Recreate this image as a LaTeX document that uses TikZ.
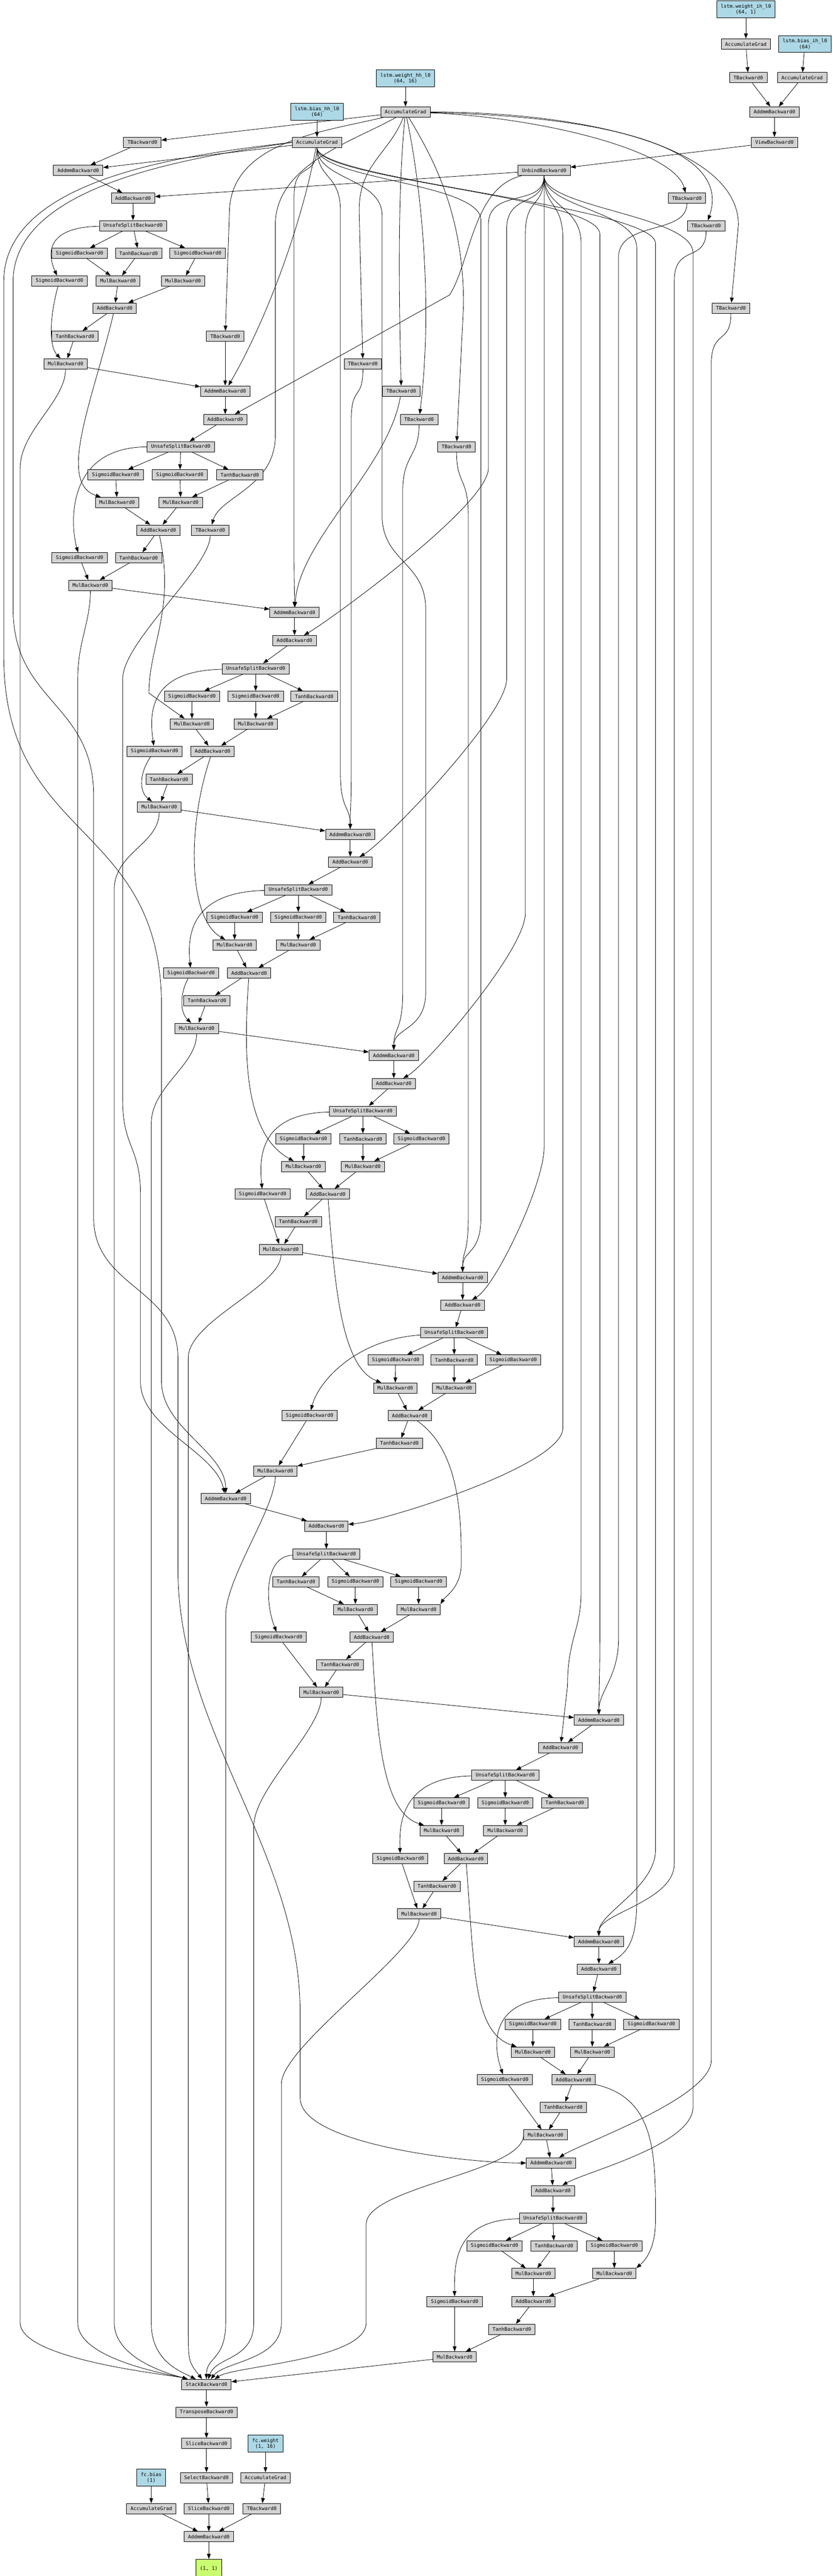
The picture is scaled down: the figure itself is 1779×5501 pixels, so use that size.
\documentclass[tikz,border=0pt]{standalone}
\usepackage{fontspec}
\setmonofont{DejaVu Sans Mono}
\usepackage{tikz}
\usetikzlibrary{arrows.meta,backgrounds}
\definecolor{fngray}{HTML}{D3D3D3}
\definecolor{parblue}{HTML}{ADD8E6}
\definecolor{outgreen}{HTML}{CAFF70}
\def\edgeto(#1)(#2){\draw[conn] (#1) -- (#2);}
\def\lanepath[#1](#2)(#3:#4:#5)(#6){\draw[conn] (#2) .. controls +(0,80) and (#3,#4-80) .. (#3,#4) -- (#3,#5) .. controls (#3,#5+80) and +(#1) .. (#6);}

\begin{document}
\begin{tikzpicture}[x=1pt, y=-1pt,
  fnbox/.style={draw, line width=0.9pt, fill=fngray, font=\ttfamily\fontsize{10.5}{12.5}\selectfont, minimum height=22pt, inner xsep=8.5pt, inner ysep=2pt},
  parambox/.style={fnbox, fill=parblue, align=center, minimum height=36pt},
  outbox/.style={parambox, fill=outgreen},
  conn/.style={line width=0.9pt, -{Triangle[length=11pt,width=8pt]}}]
			%%%%% START %%%%%
			\useasboundingbox (0,0) rectangle (1779,5501);
			
			\node[parambox] (wih) at (1593,20) {lstm.weight\_ih\_l0\\(64, 1)};
			\node[fnbox] (agih) at (1593,94) {AccumulateGrad};
			\node[parambox] (bih) at (1719,94) {lstm.bias\_ih\_l0\\(64)};
			\node[fnbox] (tih) at (1598,166) {TBackward0};
			\node[fnbox] (agbih) at (1713,166) {AccumulateGrad};
			\node[fnbox] (addih) at (1654,239) {AddmmBackward0};
			\node[fnbox] (view) at (1654,304) {ViewBackward0};
			\node[fnbox] (unbind) at (1162,364) {UnbindBackward0};
			\node[parambox] (whh) at (866,167) {lstm.weight\_hh\_l0\\(64, 16)};
			\node[fnbox] (agwhh) at (866,239) {AccumulateGrad};
			\node[parambox] (bhh) at (677,239) {lstm.bias\_hh\_l0\\(64)};
			\node[fnbox] (agbhh) at (677,304) {AccumulateGrad};
			
			\node[fnbox] (t1) at (304,304) {TBackward0};
			\node[fnbox] (t2) at (481,718) {TBackward0};
			\node[fnbox] (t3) at (775,777) {TBackward0};
			\node[fnbox] (t4) at (857,835) {TBackward0};
			\node[fnbox] (t5) at (895,896) {TBackward0};
			\node[fnbox] (t6) at (975,954) {TBackward0};
			\node[fnbox] (t7) at (449,1132) {TBackward0};
			\node[fnbox] (t8) at (1467,423) {TBackward0};
			\node[fnbox] (t9) at (1508,482) {TBackward0};
			\node[fnbox] (t10) at (1561,658) {TBackward0};
			
			% step 1
			\node[fnbox] (am1) at (167,364) {AddmmBackward0};
			\node[fnbox] (ad1) at (284,423) {AddBackward0};
			\node[fnbox] (sp1) at (284,482) {UnsafeSplitBackward0};
			\node[fnbox] (si1) at (170,541) {SigmoidBackward0};
			\node[fnbox] (tg1) at (296,541) {TanhBackward0};
			\node[fnbox] (sf1) at (422,541) {SigmoidBackward0};
			\node[fnbox] (so1) at (127,600) {SigmoidBackward0};
			\node[fnbox] (mi1) at (252,600) {MulBackward0};
			\node[fnbox] (mf1) at (391,600) {MulBackward0};
			\node[fnbox] (ac1) at (245,658) {AddBackward0};
			\node[fnbox] (tc1) at (160,718) {TanhBackward0};
			\node[fnbox] (mh1) at (140,777) {MulBackward0};
			
			% step 2
			\node[fnbox] (am2) at (481,835) {AddmmBackward0};
			\node[fnbox] (ad2) at (481,896) {AddBackward0};
			\node[fnbox] (sp2) at (386,954) {UnsafeSplitBackward0};
			\node[fnbox] (sf2) at (247,1014) {SigmoidBackward0};
			\node[fnbox] (si2) at (384,1014) {SigmoidBackward0};
			\node[fnbox] (tg2) at (512,1014) {TanhBackward0};
			\node[fnbox] (mf2) at (250,1073) {MulBackward0};
			\node[fnbox] (mi2) at (386,1073) {MulBackward0};
			\node[fnbox] (ac2) at (338,1132) {AddBackward0};
			\node[fnbox] (so2) at (170,1191) {SigmoidBackward0};
			\node[fnbox] (tc2) at (296,1191) {TanhBackward0};
			\node[fnbox] (mh2) at (193,1250) {MulBackward0};
			
			% step 3
			\node[fnbox] (am3) at (629,1308) {AddmmBackward0};
			\node[fnbox] (ad3) at (629,1368) {AddBackward0};
			\node[fnbox] (sp3) at (546,1428) {UnsafeSplitBackward0};
			\node[fnbox] (sf3) at (410,1487) {SigmoidBackward0};
			\node[fnbox] (si3) at (546,1487) {SigmoidBackward0};
			\node[fnbox] (tg3) at (671,1487) {TanhBackward0};
			\node[fnbox] (mf3) at (410,1546) {MulBackward0};
			\node[fnbox] (mi3) at (546,1546) {MulBackward0};
			\node[fnbox] (so3) at (330,1604) {SigmoidBackward0};
			\node[fnbox] (ac3) at (454,1604) {AddBackward0};
			\node[fnbox] (tc3) at (361,1664) {TanhBackward0};
			\node[fnbox] (mh3) at (340,1723) {MulBackward0};
			
			% step 4
			\node[fnbox] (am4) at (748,1782) {AddmmBackward0};
			\node[fnbox] (ad4) at (748,1841) {AddBackward0};
			\node[fnbox] (sp4) at (637,1900) {UnsafeSplitBackward0};
			\node[fnbox] (sf4) at (501,1959) {SigmoidBackward0};
			\node[fnbox] (si4) at (637,1959) {SigmoidBackward0};
			\node[fnbox] (tg4) at (762,1959) {TanhBackward0};
			\node[fnbox] (mf4) at (501,2018) {MulBackward0};
			\node[fnbox] (mi4) at (637,2018) {MulBackward0};
			\node[fnbox] (so4) at (408,2078) {SigmoidBackward0};
			\node[fnbox] (ac4) at (532,2078) {AddBackward0};
			\node[fnbox] (tc4) at (442,2137) {TanhBackward0};
			\node[fnbox] (mh4) at (420,2196) {MulBackward0};
			
			% step 5
			\node[fnbox] (am5) at (841,2254) {AddmmBackward0};
			\node[fnbox] (ad5) at (841,2314) {AddBackward0};
			\node[fnbox] (sp5) at (775,2373) {UnsafeSplitBackward0};
			\node[fnbox] (sf5) at (648,2432) {SigmoidBackward0};
			\node[fnbox] (tg5) at (775,2432) {TanhBackward0};
			\node[fnbox] (si5) at (900,2432) {SigmoidBackward0};
			\node[fnbox] (mf5) at (648,2491) {MulBackward0};
			\node[fnbox] (mi5) at (775,2491) {MulBackward0};
			\node[fnbox] (so5) at (561,2550) {SigmoidBackward0};
			\node[fnbox] (ac5) at (700,2550) {AddBackward0};
			\node[fnbox] (tc5) at (637,2609) {TanhBackward0};
			\node[fnbox] (mh5) at (600,2668) {MulBackward0};
			
			% step 6
			\node[fnbox] (am6) at (988,2728) {AddmmBackward0};
			\node[fnbox] (ad6) at (988,2787) {AddBackward0};
			\node[fnbox] (sp6) at (970,2846) {UnsafeSplitBackward0};
			\node[fnbox] (sf6) at (845,2904) {SigmoidBackward0};
			\node[fnbox] (tg6) at (970,2904) {TanhBackward0};
			\node[fnbox] (si6) at (1096,2904) {SigmoidBackward0};
			\node[fnbox] (mf6) at (844,2964) {MulBackward0};
			\node[fnbox] (mi6) at (970,2964) {MulBackward0};
			\node[fnbox] (so6) at (661,3023) {SigmoidBackward0};
			\node[fnbox] (ac6) at (875,3023) {AddBackward0};
			\node[fnbox] (tc6) at (853,3082) {TanhBackward0};
			\node[fnbox] (mh6) at (588,3141) {MulBackward0};
			
			% step 7
			\node[fnbox] (am7) at (482,3200) {AddmmBackward0};
			\node[fnbox] (ad7) at (697,3259) {AddBackward0};
			\node[fnbox] (sp7) at (697,3319) {UnsafeSplitBackward0};
			\node[fnbox] (tg7) at (632,3378) {TanhBackward0};
			\node[fnbox] (si7) at (759,3378) {SigmoidBackward0};
			\node[fnbox] (sf7) at (894,3378) {SigmoidBackward0};
			\node[fnbox] (mi7) at (759,3437) {MulBackward0};
			\node[fnbox] (mf7) at (894,3437) {MulBackward0};
			\node[fnbox] (so7) at (595,3496) {SigmoidBackward0};
			\node[fnbox] (ac7) at (794,3496) {AddBackward0};
			\node[fnbox] (tc7) at (726,3555) {TanhBackward0};
			\node[fnbox] (mh7) at (686,3614) {MulBackward0};
			
			% step 8
			\node[fnbox] (am8) at (1279,3673) {AddmmBackward0};
			\node[fnbox] (ad8) at (1197,3732) {AddBackward0};
			\node[fnbox] (sp8) at (1079,3791) {UnsafeSplitBackward0};
			\node[fnbox] (sf8) at (943,3850) {SigmoidBackward0};
			\node[fnbox] (si8) at (1079,3850) {SigmoidBackward0};
			\node[fnbox] (tg8) at (1206,3850) {TanhBackward0};
			\node[fnbox] (mf8) at (943,3909) {MulBackward0};
			\node[fnbox] (mi8) at (1079,3909) {MulBackward0};
			\node[fnbox] (so8) at (855,3969) {SigmoidBackward0};
			\node[fnbox] (ac8) at (995,3969) {AddBackward0};
			\node[fnbox] (tc8) at (933,4028) {TanhBackward0};
			\node[fnbox] (mh8) at (895,4087) {MulBackward0};
			
			% step 9
			\node[fnbox] (am9) at (1279,4146) {AddmmBackward0};
			\node[fnbox] (ad9) at (1279,4205) {AddBackward0};
			\node[fnbox] (sp9) at (1265,4265) {UnsafeSplitBackward0};
			\node[fnbox] (sf9) at (1138,4323) {SigmoidBackward0};
			\node[fnbox] (tg9) at (1265,4323) {TanhBackward0};
			\node[fnbox] (si9) at (1391,4323) {SigmoidBackward0};
			\node[fnbox] (mf9) at (1138,4382) {MulBackward0};
			\node[fnbox] (mi9) at (1265,4382) {MulBackward0};
			\node[fnbox] (so9) at (1078,4441) {SigmoidBackward0};
			\node[fnbox] (ac9) at (1225,4441) {AddBackward0};
			\node[fnbox] (tc9) at (1203,4500) {TanhBackward0};
			\node[fnbox] (mh9) at (1165,4559) {MulBackward0};
			
			% step 10
			\node[fnbox] (am10) at (1177,4619) {AddmmBackward0};
			\node[fnbox] (ad10) at (1181,4678) {AddBackward0};
			\node[fnbox] (sp10) at (1181,4737) {UnsafeSplitBackward0};
			\node[fnbox] (si10) at (1056,4796) {SigmoidBackward0};
			\node[fnbox] (tg10) at (1183,4796) {TanhBackward0};
			\node[fnbox] (sf10) at (1312,4796) {SigmoidBackward0};
			\node[fnbox] (mi10) at (1139,4855) {MulBackward0};
			\node[fnbox] (mf10) at (1312,4855) {MulBackward0};
			\node[fnbox] (so10) at (971,4915) {SigmoidBackward0};
			\node[fnbox] (ac10) at (1139,4915) {AddBackward0};
			\node[fnbox] (tc10) at (1093,4974) {TanhBackward0};
			\node[fnbox] (mh10) at (971,5033) {MulBackward0};
			
			% head
			\node[fnbox] (stack) at (441,5092) {StackBackward0};
			\node[fnbox] (transp) at (441,5151) {TransposeBackward0};
			\node[fnbox] (slice1) at (441,5218) {SliceBackward0};
			\node[parambox] (fcw) at (567,5218) {fc.weight\\(1, 16)};
			\node[parambox] (fcb) at (323,5291) {fc.bias\\(1)};
			\node[fnbox] (select) at (441,5291) {SelectBackward0};
			\node[fnbox] (agfcw) at (567,5291) {AccumulateGrad};
			\node[fnbox] (agfcb) at (323,5357) {AccumulateGrad};
			\node[fnbox] (slice2) at (446,5357) {SliceBackward0};
			\node[fnbox] (tfc) at (559,5357) {TBackward0};
			\node[fnbox] (amfc) at (446,5417) {AddmmBackward0};
			\node[outbox] (out) at (446,5483) {\mbox{}\\(1, 1)};
			
			\begin{scope}[on background layer]
			\edgeto(wih)(agih) \edgeto(agih)(tih) \edgeto(tih)(addih) \edgeto(bih)(agbih) \edgeto(agbih)(addih)
			\edgeto(addih)(view) \edgeto(view)(unbind) \edgeto(whh)(agwhh) \edgeto(bhh)(agbhh)
			
			% weight_hh
			\edgeto(agwhh)(t1)
			\draw[conn] (agwhh) .. controls (700,280) and (495,300) .. (490,450) -- (t2);
			\draw[conn] (agwhh) .. controls (830,330) and (767,350) .. (767,450) -- (t3);
			\draw[conn] (agwhh) .. controls (850,400) and (851,600) .. (t4);
			\draw[conn] (agwhh) .. controls (900,400) and (925,650) .. (t5);
			\draw[conn] (agwhh) .. controls (920,330) and (990,450) .. (990,650) -- (t6);
			\draw[conn] (agwhh) .. controls (760,300) and (588,350) .. (588,480) -- (588,930) .. controls (588,1040) and (470,1060) .. (t7);
			\draw[conn] (agwhh) .. controls (1150,250) and (1440,320) .. (t8);
			\draw[conn] (agwhh) .. controls (1350,250) and (1560,330) .. (t9);
			\draw[conn] (agwhh) .. controls (1300,240) and (1577,330) .. (1577,480) -- (t10);
			
			% bias_hh
			\edgeto(agbhh)(am1)
			\draw[conn] (agbhh) .. controls (640,500) and (560,700) .. (am2);
			\lanepath[0,-60](agbhh)(628:420:1180)(am3)
			\lanepath[0,-60](agbhh)(727:450:1650)(am4)
			\draw[conn] (agbhh) .. controls +(0,80) and (816,380) .. (816,460) -- (816,1100) .. controls (816,1200) and (909,1200) .. (909,1300) -- (909,2120) .. controls (909,2200) and +(0,-60) .. (am5);
			\lanepath[0,-60](agbhh)(1027:470:2600)(am6)
			\draw[conn] (agbhh.west) .. controls (400,330) and (10,380) .. (8,600) -- (8,1400) .. controls (8,1800) and (345,1750) .. (345,2150) -- (345,2950) .. controls (345,3050) and (482,3100) .. (am7);
			\lanepath[0,-60](agbhh)(1281:500:3500)(am8)
			\lanepath[0,-60](agbhh)(1400:520:3950)(am9)
			\draw[conn] (agbhh.west) .. controls (420,335) and (30,390) .. (28,600) -- (28,1300) .. controls (28,1500) and (200,1500) .. (200,1700) -- (200,2600) .. controls (200,2750) and (380,2750) .. (380,2900) -- (380,3350) .. controls (380,3700) and (641,3950) .. (641,4300) -- (641,4480) .. controls (641,4580) and (1000,4619) .. (am10);
			
			% TBackward0 into AddmmBackward0
			\edgeto(t1)(am1) \edgeto(t2)(am2)
			\draw[conn] (t4) .. controls (830,1000) and (640,1150) .. (am3);
			\lanepath[0,-60](t3)(750:900:1650)(am4)
			\lanepath[0,-60](t5)(860:1050:2120)(am5)
			\lanepath[0,-60](t6)(1000:1100:2600)(am6)
			\draw[conn] (t7) .. controls +(0,80) and (262,1370) .. (262,1450) -- (262,2350) .. controls (262,2450) and (300,2450) .. (300,2550) -- (300,2950) .. controls (300,3050) and (460,3100) .. (am7);
			\lanepath[0,-60](t8)(1321:550:3500)(am8)
			\lanepath[0,-60](t9)(1440:600:3980)(am9)
			\lanepath[60,-40](t10)(1519:780:4400)(am10)
			
			% UnbindBackward0
			\edgeto(unbind)(ad1)
			\draw[conn] (unbind) .. controls (1010,400) and (1005,560) .. (960,630) -- (ad2);
			\lanepath[70,-40](unbind)(1043:480:1000)(ad3)
			\lanepath[70,-40](unbind)(1082:490:1450)(ad4)
			\lanepath[70,-40](unbind)(1122:500:1950)(ad5)
			\lanepath[70,-40](unbind)(1162:500:2450)(ad6)
			\lanepath[120,-10](unbind)(1202:510:3050)(ad7)
			\draw[conn] (unbind) .. controls +(0,80) and (1241,440) .. (1241,520) -- (1241,3400) .. controls (1241,3480) and (1212,3500) .. (1212,3600) -- (ad8);
			\lanepath[70,-40](unbind)(1360:530:4050)(ad9)
			\lanepath[70,-40](unbind)(1480:540:4500)(ad10)
			
			% cell state
			\draw[conn] (ac1) .. controls (200,850) and (120,1030) .. (mf2);
			\draw[conn] (ac2) .. controls (375,1300) and (318,1380) .. (318,1480) -- (mf3);
			\draw[conn] (ac3) .. controls (400,1760) and (400,1960) .. (mf4);
			\draw[conn] (ac4) .. controls (520,2250) and (520,2420) .. (mf5);
			\draw[conn] (ac5) .. controls (715,2750) and (730,2920) .. (mf6);
			\draw[conn] (ac6) .. controls (985,3100) and (985,3250) .. (985,3340) .. controls (985,3390) and (950,3410) .. (mf7.north east);
			\draw[conn] (ac7) .. controls (805,3700) and (815,3870) .. (mf8);
			\draw[conn] (ac8) .. controls (1013,4200) and (1010,4340) .. (mf9);
			\draw[conn] (ac9) .. controls (1400,4480) and (1400,4600) .. (1400,4740) .. controls (1400,4800) and (1380,4825) .. (mf10.north east);
			
			% split to output gate
			\draw[conn] (sp1) .. controls (100,485) and (100,540) .. (so1);
			\draw[conn] (sp2) .. controls (140,955) and (150,1120) .. (so2);
			\draw[conn] (sp3) .. controls (320,1432) and (318,1520) .. (so3);
			\draw[conn] (sp4) .. controls (405,1905) and (400,2000) .. (so4);
			\draw[conn] (sp5) .. controls (555,2378) and (553,2470) .. (so5);
			\draw[conn] (sp6) .. controls (760,2860) and (680,2950) .. (so6);
			\draw[conn] (sp7) .. controls (565,3323) and (565,3420) .. (so7);
			\draw[conn] (sp8) .. controls (860,3795) and (852,3890) .. (so8);
			\draw[conn] (sp9) .. controls (1050,4268) and (1050,4360) .. (so9);
			\draw[conn] (sp10) .. controls (972,4740) and (970,4830) .. (so10);
			\draw[conn] (so1) .. controls (105,680) and (105,740) .. (mh1);
			\draw[conn] (so3) .. controls (298,1650) and (296,1690) .. (mh3);
			\draw[conn] (so4) .. controls (385,2120) and (383,2160) .. (mh4);
			\edgeto(so2)(mh2) \edgeto(so5)(mh5) \edgeto(so6)(mh6) \edgeto(so7)(mh7) \edgeto(so8)(mh8) \edgeto(so9)(mh9) \edgeto(so10)(mh10)
			
			% inside the steps
			\edgeto(am1)(ad1) \edgeto(ad1)(sp1) \edgeto(sp1)(si1) \edgeto(sp1)(tg1) \edgeto(sp1)(sf1) \edgeto(si1)(mi1) \edgeto(tg1)(mi1)
			\edgeto(sf1)(mf1) \edgeto(mi1)(ac1) \edgeto(mf1)(ac1) \edgeto(ac1)(tc1) \edgeto(tc1)(mh1) \edgeto(mh1)(am2)
			\edgeto(am2)(ad2) \edgeto(ad2)(sp2) \edgeto(sp2)(sf2) \edgeto(sp2)(si2) \edgeto(sp2)(tg2) \edgeto(sf2)(mf2) \edgeto(si2)(mi2)
			\edgeto(tg2)(mi2) \edgeto(mf2)(ac2) \edgeto(mi2)(ac2) \edgeto(ac2)(tc2) \edgeto(tc2)(mh2) \edgeto(mh2)(am3)
			\edgeto(am3)(ad3) \edgeto(ad3)(sp3) \edgeto(sp3)(sf3) \edgeto(sp3)(si3) \edgeto(sp3)(tg3) \edgeto(sf3)(mf3) \edgeto(si3)(mi3)
			\edgeto(tg3)(mi3) \edgeto(mf3)(ac3) \edgeto(mi3)(ac3) \edgeto(ac3)(tc3) \edgeto(tc3)(mh3) \edgeto(mh3)(am4)
			\edgeto(am4)(ad4) \edgeto(ad4)(sp4) \edgeto(sp4)(sf4) \edgeto(sp4)(si4) \edgeto(sp4)(tg4) \edgeto(sf4)(mf4) \edgeto(si4)(mi4)
			\edgeto(tg4)(mi4) \edgeto(mf4)(ac4) \edgeto(mi4)(ac4) \edgeto(ac4)(tc4) \edgeto(tc4)(mh4) \edgeto(mh4)(am5)
			\edgeto(am5)(ad5) \edgeto(ad5)(sp5) \edgeto(sp5)(sf5) \edgeto(sp5)(tg5) \edgeto(sp5)(si5) \edgeto(sf5)(mf5) \edgeto(tg5)(mi5)
			\edgeto(si5)(mi5) \edgeto(mf5)(ac5) \edgeto(mi5)(ac5) \edgeto(ac5)(tc5) \edgeto(tc5)(mh5) \edgeto(mh5)(am6)
			\edgeto(am6)(ad6) \edgeto(ad6)(sp6) \edgeto(sp6)(sf6) \edgeto(sp6)(tg6) \edgeto(sp6)(si6) \edgeto(sf6)(mf6) \edgeto(tg6)(mi6)
			\edgeto(si6)(mi6) \edgeto(mf6)(ac6) \edgeto(mi6)(ac6) \edgeto(ac6)(tc6) \edgeto(tc6)(mh6) \edgeto(mh6)(am7)
			\edgeto(am7)(ad7) \edgeto(ad7)(sp7) \edgeto(sp7)(tg7) \edgeto(sp7)(si7) \edgeto(sp7)(sf7) \edgeto(tg7)(mi7) \edgeto(si7)(mi7)
			\edgeto(sf7)(mf7) \edgeto(mi7)(ac7) \edgeto(mf7)(ac7) \edgeto(ac7)(tc7) \edgeto(tc7)(mh7) \edgeto(mh7)(am8)
			\edgeto(am8)(ad8) \edgeto(ad8)(sp8) \edgeto(sp8)(sf8) \edgeto(sp8)(si8) \edgeto(sp8)(tg8) \edgeto(sf8)(mf8) \edgeto(si8)(mi8)
			\edgeto(tg8)(mi8) \edgeto(mf8)(ac8) \edgeto(mi8)(ac8) \edgeto(ac8)(tc8) \edgeto(tc8)(mh8) \edgeto(mh8)(am9)
			\edgeto(am9)(ad9) \edgeto(ad9)(sp9) \edgeto(sp9)(sf9) \edgeto(sp9)(tg9) \edgeto(sp9)(si9) \edgeto(sf9)(mf9) \edgeto(tg9)(mi9)
			\edgeto(si9)(mi9) \edgeto(mf9)(ac9) \edgeto(mi9)(ac9) \edgeto(ac9)(tc9) \edgeto(tc9)(mh9) \edgeto(mh9)(am10)
			\edgeto(am10)(ad10) \edgeto(ad10)(sp10) \edgeto(sp10)(si10) \edgeto(sp10)(tg10) \edgeto(sp10)(sf10) \edgeto(si10)(mi10) \edgeto(tg10)(mi10)
			\edgeto(sf10)(mf10) \edgeto(mi10)(ac10) \edgeto(mf10)(ac10) \edgeto(ac10)(tc10) \edgeto(tc10)(mh10)
			
			% hidden states into StackBackward0
			\lanepath[-70,-20](mh1)(43:1000:4960)(stack)
			\lanepath[-70,-20](mh2)(166:1450:4960)(stack)
			\lanepath[-70,-20](mh3)(244:1900:4960)(stack)
			\lanepath[-60,-30](mh4)(323:2400:4960)(stack)
			\lanepath[-40,-50](mh5)(402:2900:4960)(stack)
			\lanepath[0,-60](mh6)(482:3450:4960)(stack)
			\lanepath[20,-60](mh7)(542:3900:4960)(stack)
			\lanepath[40,-50](mh8)(601:4450:4960)(stack)
			\lanepath[60,-40](mh9.west)(782:4750:4960)(stack)
			\edgeto(mh10)(stack)
			
			\edgeto(stack)(transp) \edgeto(transp)(slice1) \edgeto(slice1)(select) \edgeto(select)(slice2) \edgeto(slice2)(amfc) \edgeto(amfc)(out)
			\edgeto(fcw)(agfcw) \edgeto(agfcw)(tfc) \edgeto(tfc)(amfc) \edgeto(fcb)(agfcb) \edgeto(agfcb)(amfc)
			\end{scope}
			%%%%% END %%%%%
\end{tikzpicture}
\end{document}
